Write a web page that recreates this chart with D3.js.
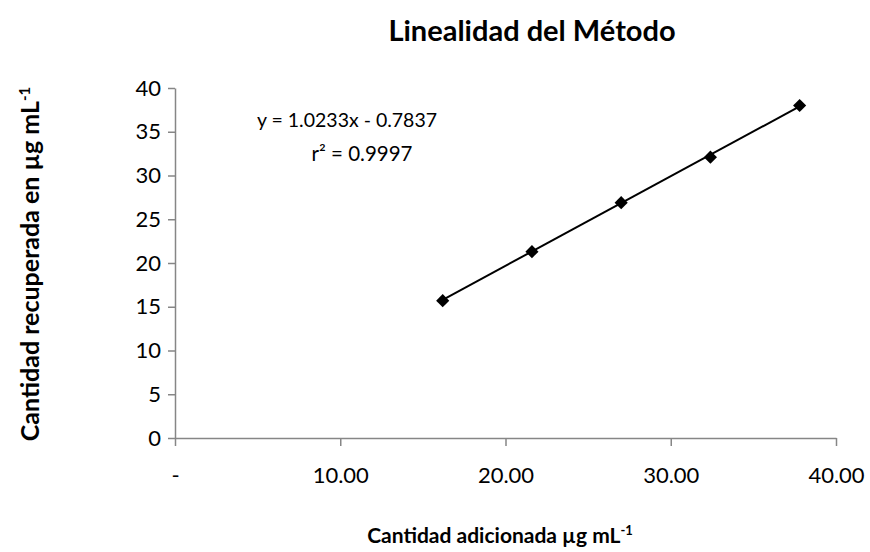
<!DOCTYPE html>
<html>
<head>
<meta charset="utf-8">
<script src="https://cdn.jsdelivr.net/npm/d3@7"></script>
<style>
  body { margin: 0; background: #fff; }
  text { font-family: Lato, "Liberation Sans", sans-serif; fill: #000; }
  .axis path, .axis line { stroke: #868686; stroke-width: 1.5; }
  .axis text { font-size: 22px; font-family: Lato, sans-serif; }
</style>
</head>
<body>
<script>
// data
var added = [16.2, 21.6, 27.0, 32.4, 37.8];
var recovered = [15.7, 21.3, 26.9, 32.1, 38.0];
var xTicks = [0, 10, 20, 30, 40];
var yTicks = [0, 5, 10, 15, 20, 25, 30, 35, 40];
var slope = 1.0233, intercept = -0.7837;

var width = 870, height = 552;
var svg = d3.select("body").append("svg")
    .attr("width", width)
    .attr("height", height);

var x = d3.scaleLinear().domain([0, 40]).range([175, 836]);
var y = d3.scaleLinear().domain([0, 40]).range([438, 88]);

//x axis
var xAxis = svg.append("g")
    .attr("class", "axis")
    .attr("transform", "translate(0," + y(0) + ")")
    .call(d3.axisBottom(x).tickValues(xTicks).tickSize(8).tickSizeOuter(0)
        .tickFormat(function(d){ return d === 0 ? "-" : d3.format(".2f")(d); }));
xAxis.selectAll("text").attr("dy", "1.55em");

//y axis
var yAxis = svg.append("g")
    .attr("class", "axis")
    .attr("transform", "translate(" + x(0) + ",0)")
    .call(d3.axisLeft(y).tickValues(yTicks).tickSize(7).tickSizeOuter(0));
yAxis.selectAll("text").attr("x", -14);

//trendline
svg.append("line")
    .attr("x1", x(added[0])).attr("y1", y(slope * added[0] + intercept))
    .attr("x2", x(added[added.length - 1])).attr("y2", y(slope * added[added.length - 1] + intercept))
    .attr("stroke", "#000").attr("stroke-width", 2);

//points
svg.selectAll(".pt")
    .data(added)
    .enter()
    .append("path")
    .attr("class", "pt")
    .attr("d", d3.symbol().type(d3.symbolDiamond2).size(110))
    .attr("transform", function(d, i){ return "translate(" + x(d) + "," + y(recovered[i]) + ")"; })
    .attr("fill", "#000");

//equation
svg.append("text").attr("x", 347).attr("y", 127).attr("text-anchor", "middle")
    .style("font-size", "19.5px").text("y = 1.0233x - 0.7837");
svg.append("text").attr("x", 362).attr("y", 161).attr("text-anchor", "middle")
    .style("font-size", "20.5px").text("r² = 0.9997");

//titles
svg.append("text").attr("x", 532).attr("y", 41).attr("text-anchor", "middle")
    .style("font-size", "29px").style("font-weight", "bold").text("Linealidad del Método");

var xt = svg.append("text").attr("x", 500).attr("y", 543).attr("text-anchor", "middle")
    .style("font-size", "21px").style("font-weight", "bold");
xt.append("tspan").text("Cantidad adicionada µg mL");
xt.append("tspan").attr("dy", -8).style("font-size", "13px").text("-1");

var yt = svg.append("text").attr("transform", "translate(39,264) rotate(-90)").attr("text-anchor", "middle")
    .style("font-size", "25px").style("font-weight", "bold");
yt.append("tspan").text("Cantidad recuperada en µg mL");
yt.append("tspan").attr("dy", -9).style("font-size", "15px").text("-1");
</script>
</body>
</html>
